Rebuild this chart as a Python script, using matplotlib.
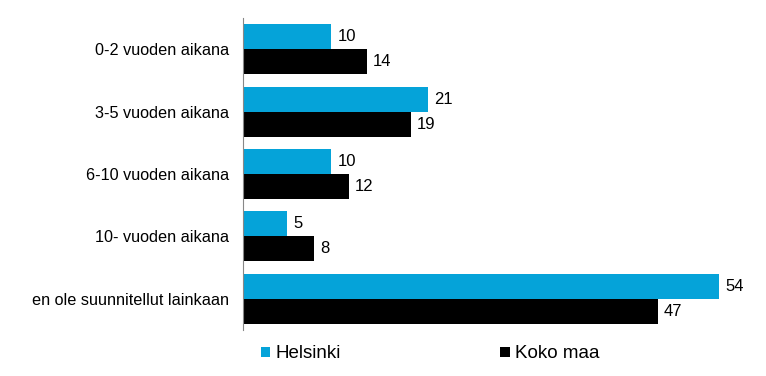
import matplotlib
matplotlib.use("Agg")
import matplotlib.pyplot as plt
import numpy as np

plt.rcParams['font.family'] = ['Liberation Sans', 'DejaVu Sans']

categories = ["0-2 vuoden aikana", "3-5 vuoden aikana", "6-10 vuoden aikana",
              "10- vuoden aikana", "en ole suunnitellut lainkaan"]
helsinki = [10, 21, 10, 5, 54]
koko_maa = [14, 19, 12, 8, 47]
series_names = ["Helsinki", "Koko maa"]
colors = ["#05A3D9", "#000000"]

fig = plt.figure(figsize=(7.66, 3.76), dpi=100)
ax = fig.add_axes([243/766, 1-330/376, (737-243)/766, (330-18)/376])

y = np.arange(len(categories))
h = 0.4
b1 = ax.barh(y - h/2, helsinki, height=h, color=colors[0], label=series_names[0])
b2 = ax.barh(y + h/2, koko_maa, height=h, color=colors[1], label=series_names[1])
ax.bar_label(b1, padding=4.5, fontsize=12)
ax.bar_label(b2, padding=4.5, fontsize=12)

ax.set_ylim(len(categories) - 0.5, -0.5)
ax.set_xlim(0, 56)
ax.set_yticks(y)
ax.set_yticklabels(categories, fontsize=11.7)
ax.tick_params(axis='y', length=0, pad=10)
ax.set_xticks([])
for s in ["top", "right", "bottom"]:
    ax.spines[s].set_visible(False)
ax.spines["left"].set_color("#888888")
ax.spines["left"].set_linewidth(0.8)

fig.legend(handles=[b1, b2], labels=series_names, loc="center left",
           bbox_to_anchor=(261/766, 1-354/376), ncol=2, frameon=False,
           fontsize=13.5, handlelength=0.5, handleheight=0.5, handletextpad=0.27,
           columnspacing=8.5, borderaxespad=0, borderpad=0)

fig.savefig("out.png", dpi=100)
